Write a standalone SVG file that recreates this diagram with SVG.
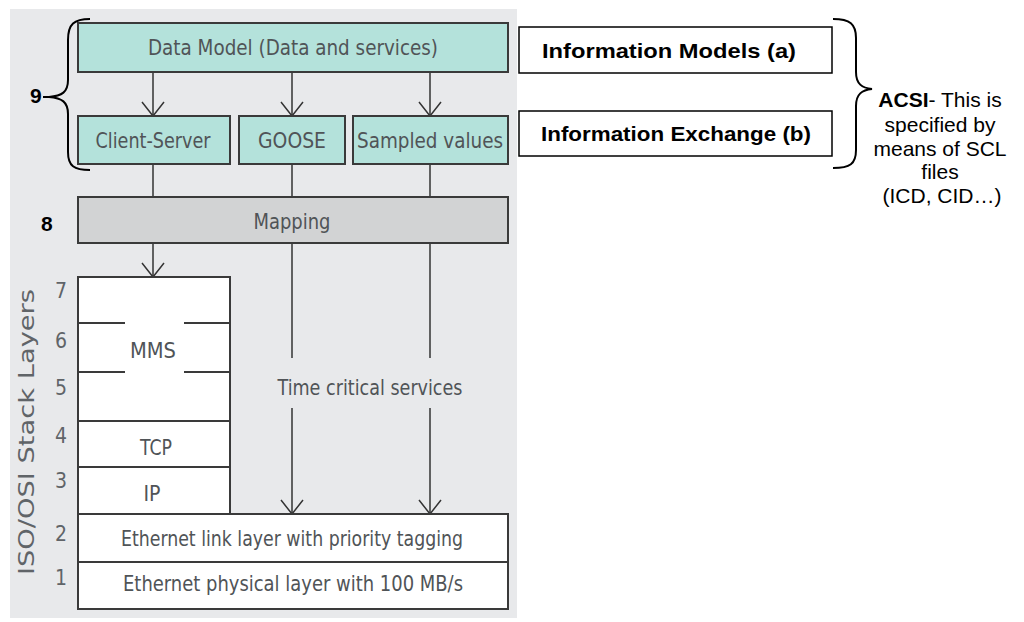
<svg xmlns="http://www.w3.org/2000/svg" width="1024" height="622" viewBox="0 0 1024 622">
  <defs>
    <!-- open V arrowhead, drawn along +x so orient="auto" turns it with the line -->
    <marker id="vhead" viewBox="0 0 16 24" refX="15" refY="12" markerWidth="16" markerHeight="24" markerUnits="userSpaceOnUse" orient="auto">
      <path d="M1,1 L15,12 L1,23" fill="none" stroke="#333" stroke-width="1.5"/>
    </marker>
    <style>
      .box { stroke: #3a3a3a; stroke-width: 2; }
      .teal { fill: #b4e2db; }
      .grey { fill: #d2d3d4; }
      .white { fill: #ffffff; }
      .lbl { font-family: "Liberation Sans Narrow", "DejaVu Sans Condensed", "Liberation Sans", sans-serif; font-size: 21px; fill: #505457; text-anchor: middle; }
      .num { font-family: "Liberation Sans Narrow", "DejaVu Sans Condensed", "Liberation Sans", sans-serif; font-size: 21px; fill: #606468; text-anchor: middle; }
      .bold { font-family: "Liberation Sans", Arial, sans-serif; font-weight: bold; font-size: 21px; fill: #000; }
      .note { font-family: "Liberation Sans", Arial, sans-serif; font-size: 21px; fill: #000; text-anchor: middle; }
      .link { fill: none; stroke: #333; stroke-width: 1.5; }
      .brace { fill: none; stroke: #000; stroke-width: 2; }
    </style>
  </defs>

  <!-- panel background -->
  <rect x="10" y="9" width="507" height="609" fill="#e8e9eb"/>

  <!-- connectors -->
  <g id="connectors">
    <line class="link" x1="153" y1="72" x2="153" y2="116" marker-end="url(#vhead)"/>
    <line class="link" x1="292" y1="72" x2="292" y2="116" marker-end="url(#vhead)"/>
    <line class="link" x1="430" y1="72" x2="430" y2="116" marker-end="url(#vhead)"/>
    <line class="link" x1="153" y1="164" x2="153" y2="197"/>
    <line class="link" x1="292" y1="164" x2="292" y2="197"/>
    <line class="link" x1="430" y1="164" x2="430" y2="197"/>
    <line class="link" x1="153" y1="243" x2="153" y2="277" marker-end="url(#vhead)"/>
    <line class="link" x1="292" y1="243" x2="292" y2="358"/>
    <line class="link" x1="430" y1="243" x2="430" y2="358"/>
    <line class="link" x1="292" y1="408" x2="292" y2="514" marker-end="url(#vhead)"/>
    <line class="link" x1="430" y1="408" x2="430" y2="514" marker-end="url(#vhead)"/>
  </g>

  <g id="data-model">
    <rect class="box teal" x="78" y="23" width="430" height="49"/>
    <text class="lbl" x="293" y="55" textLength="290" lengthAdjust="spacingAndGlyphs">Data Model (Data and services)</text>
  </g>
  <g id="client-server">
    <rect class="box teal" x="78" y="116" width="152" height="48"/>
    <text class="lbl" x="153" y="148" textLength="115" lengthAdjust="spacingAndGlyphs">Client-Server</text>
  </g>
  <g id="goose">
    <rect class="box teal" x="239" y="116" width="106" height="48"/>
    <text class="lbl" x="292" y="148" textLength="68" lengthAdjust="spacingAndGlyphs">GOOSE</text>
  </g>
  <g id="sampled-values">
    <rect class="box teal" x="353" y="116" width="155" height="48"/>
    <text class="lbl" x="430" y="148" textLength="146" lengthAdjust="spacingAndGlyphs">Sampled values</text>
  </g>
  <g id="mapping">
    <rect class="box grey" x="78" y="197" width="430" height="46"/>
    <text class="lbl" x="292" y="229" textLength="77" lengthAdjust="spacingAndGlyphs">Mapping</text>
  </g>

  <g id="mms">
    <rect class="box white" x="78" y="277" width="152" height="144"/>
    <line class="box" x1="78" y1="323" x2="125" y2="323"/>
    <line class="box" x1="184" y1="323" x2="230" y2="323"/>
    <line class="box" x1="78" y1="372" x2="125" y2="372"/>
    <line class="box" x1="184" y1="372" x2="230" y2="372"/>
    <text class="lbl" x="153" y="358" textLength="46" lengthAdjust="spacingAndGlyphs">MMS</text>
  </g>
  <g id="tcp">
    <rect class="box white" x="78" y="421" width="152" height="46"/>
    <text class="lbl" x="156" y="455" textLength="32" lengthAdjust="spacingAndGlyphs">TCP</text>
  </g>
  <g id="ip">
    <rect class="box white" x="78" y="467" width="152" height="47"/>
    <text class="lbl" x="152" y="501" textLength="17" lengthAdjust="spacingAndGlyphs">IP</text>
  </g>
  <g id="time-critical">
    <text class="lbl" x="370" y="395" textLength="185" lengthAdjust="spacingAndGlyphs">Time critical services</text>
  </g>
  <g id="ethernet-link">
    <rect class="box white" x="78" y="514" width="430" height="48"/>
    <text class="lbl" x="292" y="546" textLength="342" lengthAdjust="spacingAndGlyphs">Ethernet link layer with priority tagging</text>
  </g>
  <g id="ethernet-physical">
    <rect class="box white" x="78" y="562" width="430" height="47"/>
    <text class="lbl" x="293" y="591" textLength="340" lengthAdjust="spacingAndGlyphs">Ethernet physical layer with 100 MB/s</text>
  </g>

  <!-- layer numbers -->
  <g id="layer-numbers">
    <text class="num" x="61" y="298">7</text>
    <text class="num" x="61" y="348">6</text>
    <text class="num" x="61" y="395">5</text>
    <text class="num" x="61" y="443">4</text>
    <text class="num" x="61" y="488">3</text>
    <text class="num" x="61" y="541">2</text>
    <text class="num" x="61" y="585">1</text>
  </g>
  <g id="stack-title">
    <text class="num" transform="translate(34,432) rotate(-90)" font-size="22" textLength="286" lengthAdjust="spacingAndGlyphs">ISO/OSI Stack Layers</text>
  </g>

  <!-- left brace and level labels -->
  <g id="level-9">
    <path class="brace" d="M90,19 C74,19 68,24 68,40 L68,80 C68,92 62,96 49,97 C62,98 68,102 68,114 L68,152 C68,166 74,170 90,170"/>
    <line class="brace" x1="43" y1="97" x2="49" y2="97"/>
    <text class="bold" x="30" y="103" font-size="20">9</text>
  </g>
  <g id="level-8">
    <text class="bold" x="41" y="231" font-size="20">8</text>
  </g>

  <g id="information-models">
    <rect x="519" y="27" width="313" height="46" fill="#fff" stroke="#000" stroke-width="1.5"/>
    <text class="bold" x="669" y="58" text-anchor="middle" textLength="254" lengthAdjust="spacingAndGlyphs">Information Models (a)</text>
  </g>
  <g id="information-exchange">
    <rect x="519" y="111" width="313" height="45" fill="#fff" stroke="#000" stroke-width="1.5"/>
    <text class="bold" x="676" y="141" text-anchor="middle" textLength="270" lengthAdjust="spacingAndGlyphs">Information Exchange (b)</text>
  </g>

  <!-- right brace and ACSI note -->
  <g id="acsi">
    <path class="brace" d="M833,19 C850,19 856,24 856,38 L856,72 C856,84 862,88 872,89 C862,90 856,94 856,106 L856,150 C856,164 850,168 833,168"/>
    <text class="note" x="940" y="107"><tspan font-weight="bold">ACSI</tspan>- This is</text>
    <text class="note" x="940" y="132">specified by</text>
    <text class="note" x="940" y="156">means of SCL</text>
    <text class="note" x="940" y="179">files</text>
    <text class="note" x="942" y="203">(ICD, CID…)</text>
  </g>
</svg>
